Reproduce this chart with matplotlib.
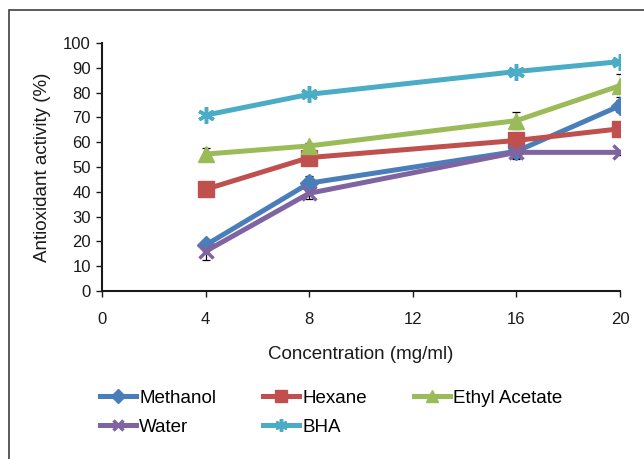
import matplotlib.pyplot as plt
from matplotlib.patches import Rectangle

plt.rcParams['font.family'] = ['Liberation Sans', 'DejaVu Sans']

conc = [4, 8, 16, 20]

methanol = [18.5, 43.5, 56.3, 74.7]
methanol_err = [1.5, 3.0, 2.5, 2.5]
hexane = [41.0, 53.8, 60.7, 65.4]
hexane_err = [1.0, 1.0, 1.5, 1.0]
ethyl = [55.2, 58.5, 68.7, 82.8]
ethyl_err = [2.5, 1.0, 3.5, 4.5]
water = [16.0, 39.4, 55.9, 55.9]
water_err = [3.5, 2.5, 2.5, 1.0]
bha = [70.9, 79.3, 88.5, 92.5]
bha_err = [0.8, 0.8, 0.8, 0.8]

fig = plt.figure(figsize=(6.44, 4.59), dpi=100)
fig.patches.append(Rectangle((9/644, -0.1), 1.2, 1.1 - 10/459, transform=fig.transFigure,
                             fill=False, edgecolor='#404040', linewidth=1.2))
ax = fig.add_axes([102/644, 1 - 291/459, 518/644, 248/459])

series = [
    ("Methanol", methanol, methanol_err, '#4A7EBB', 'D', 9),
    ("Hexane", hexane, hexane_err, '#C0504D', 's', 11),
    ("Ethyl Acetate", ethyl, ethyl_err, '#9BBB59', '^', 11),
    ("Water", water, water_err, '#8064A2', 'x', 10),
    ("BHA", bha, bha_err, '#4BACC6', (6, 2, 0), 12),
]
handles = {}
for name, vals, err, col, mk, ms in series:
    ax.errorbar(conc, vals, yerr=err, fmt='none', ecolor='black', elinewidth=0.9,
                capsize=3, capthick=0.9, zorder=1)
    h, = ax.plot(conc, vals, color=col, linewidth=3.6, marker=mk, markersize=ms,
                 markeredgewidth=2.5 if mk in ('x', (6, 2, 0)) else 1, zorder=2)
    handles[name] = h

ax.set_xlim(0, 20)
ax.set_ylim(0, 100)
ax.set_xticks([0, 4, 8, 12, 16, 20])
ax.set_yticks(range(0, 101, 10))
ax.spines['top'].set_visible(False)
ax.spines['right'].set_visible(False)
for s in ('left', 'bottom'):
    ax.spines[s].set_linewidth(1.5)
    ax.spines[s].set_color('#1a1a1a')
ax.tick_params(direction='out', length=4, width=1, labelsize=12, colors='#1a1a1a', pad=4)
ax.tick_params(axis='x', pad=11)
ax.set_xlabel("Concentration (mg/ml)", fontsize=13.5, color='#1a1a1a', labelpad=14)
ax.set_ylabel("Antioxidant activity (%)", fontsize=13.5, color='#1a1a1a', labelpad=9)

order = ["Methanol", "Water", "Hexane", "BHA", "Ethyl Acetate"]
fig.legend([handles[n] for n in order], order, ncol=3, frameon=False, fontsize=13.5,
           loc='upper left', bbox_to_anchor=(83/644, 1 - 373/459), handlelength=1.9,
           handletextpad=0.2, columnspacing=2.5, labelspacing=0.62, markerscale=0.75)

fig.savefig('out.png', dpi=100)
